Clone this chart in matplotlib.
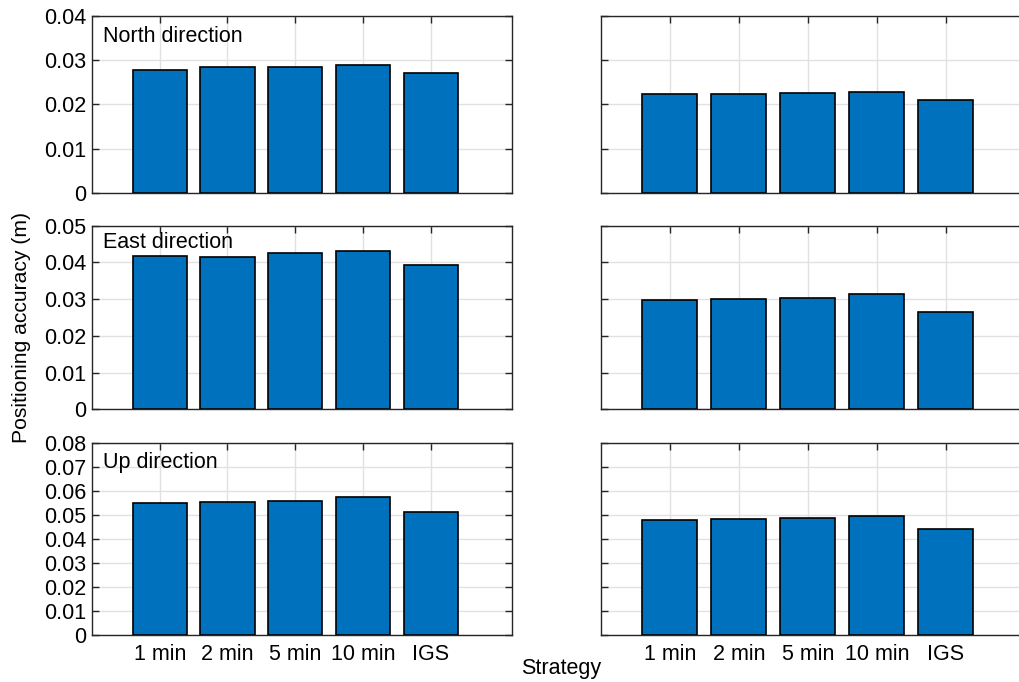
import matplotlib.pyplot as plt
from matplotlib.ticker import FormatStrFormatter

strategies = ["1 min", "2 min", "5 min", "10 min", "IGS"]

# left column
north_left = [0.0278, 0.0285, 0.0285, 0.0289, 0.0271]
east_left = [0.0417, 0.0416, 0.0425, 0.0432, 0.0393]
up_left = [0.0551, 0.0555, 0.0557, 0.0574, 0.0511]

# right column
north_right = [0.0224, 0.0224, 0.0226, 0.0229, 0.0210]
east_right = [0.0297, 0.0299, 0.0304, 0.0315, 0.0266]
up_right = [0.0478, 0.0482, 0.0489, 0.0496, 0.0443]

directions = ["North direction", "East direction", "Up direction"]
ymax = [0.04, 0.05, 0.08]

plt.rcParams["font.family"] = ["Liberation Sans", "DejaVu Sans"]
plt.rcParams["font.size"] = 15.5

fig = plt.figure(figsize=(10.19, 6.82), dpi=100)

# axes boxes: [left, bottom, width, height]
rows = [(0.7175, 0.259), (0.400, 0.269), (0.0694, 0.281)]
cols = [(0.0903, 0.412), (0.5895, 0.420)]

data = [
    [north_left, north_right],
    [east_left, east_right],
    [up_left, up_right],
]
label_y = [0.883, 0.906, 0.896]

x = list(range(1, len(strategies) + 1))

for r in range(3):
    for c in range(2):
        ax = fig.add_axes([cols[c][0], rows[r][0], cols[c][1], rows[r][1]])
        ax.bar(
            x,
            data[r][c],
            width=0.8,
            color="#0072BD",
            edgecolor="black",
            linewidth=1.2,
            zorder=3
        )
        ax.set_xlim(0, 6.2)
        ax.set_ylim(0, ymax[r])
        ax.set_yticks([i * 0.01 for i in range(int(round(ymax[r] / 0.01)) + 1)])
        ax.set_xticks(x)
        ax.grid(True, color="#e1e1e1", linewidth=1.0, zorder=0)
        ax.set_axisbelow(True)
        ax.tick_params(
            direction="in",
            length=5,
            width=1,
            color="#262626",
            top=True,
            right=True,
            labelsize=15.5,
            pad=4
        )
        ax.tick_params(axis="x", pad=6.5)
        for s in ax.spines.values():
            s.set_color("#262626")
            s.set_linewidth(1.0)

        if c == 0:
            ax.yaxis.set_major_formatter(FormatStrFormatter("%g"))
            ax.text(
                0.025, label_y[r], directions[r],
                transform=ax.transAxes,
                ha="left", va="center",
                fontsize=15.5
            )
        else:
            ax.set_yticklabels([])

        if r == 2:
            ax.set_xticklabels(strategies)
        else:
            ax.set_xticklabels([])

fig.text(0.021, 0.52, "Positioning accuracy (m)", rotation=90,
         ha="center", va="center", fontsize=15.2)
fig.text(0.551, 0.02, "Strategy", ha="center", va="center", fontsize=15.5)

fig.savefig("out.png", dpi=100)
